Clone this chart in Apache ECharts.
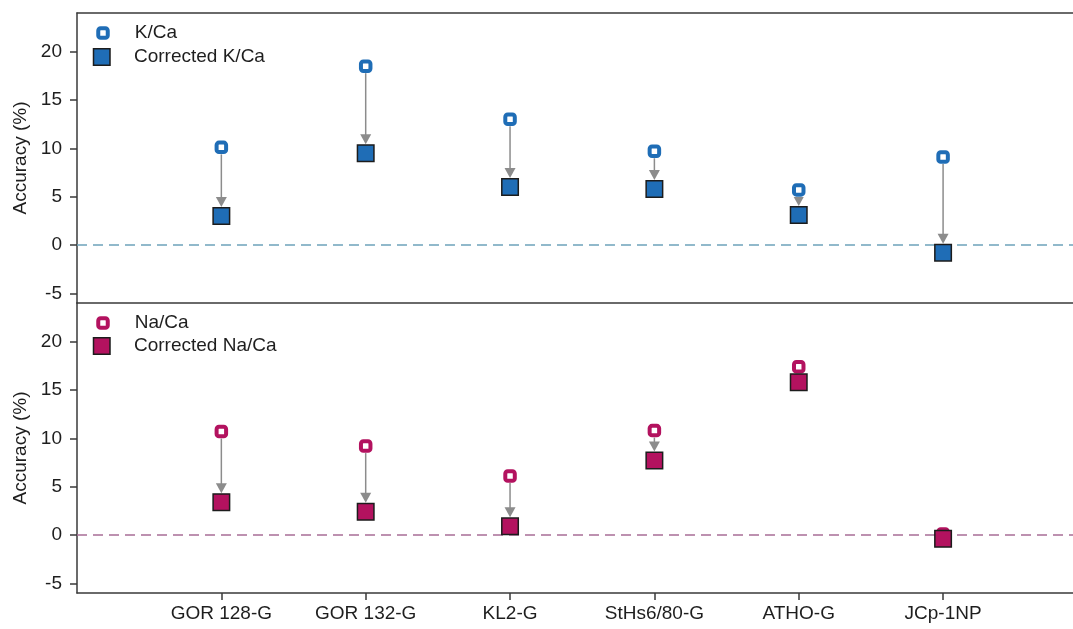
<!DOCTYPE html>
<html>
<head>
<meta charset="utf-8">
<title>Accuracy before and after correction</title>
<script src="https://cdn.jsdelivr.net/npm/echarts@6/dist/echarts.min.js"></script>
<style>
  html, body { margin: 0; padding: 0; background: #fff; }
  #chart { width: 1073px; height: 629px; }
</style>
</head>
<body>
<div id="chart"></div>
<script>
// Reference materials along the x axis
const categories = ['GOR 128-G', 'GOR 132-G', 'KL2-G', 'StHs6/80-G', 'ATHO-G', 'JCp-1NP'];

// Accuracy (%) of K/Ca, raw and corrected
const kcaRaw = [10.1, 18.5, 13.0, 9.7, 5.7, 9.1];
const kcaCorrected = [3.0, 9.5, 6.0, 5.8, 3.1, -0.8];

// Accuracy (%) of Na/Ca, raw and corrected
const nacaRaw = [10.7, 9.2, 6.1, 10.8, 17.4, 0.1];
const nacaCorrected = [3.4, 2.4, 0.9, 7.7, 15.8, -0.4];

// Tick labels of the accuracy axes
const yTicks = [-5, 0, 5, 10, 15, 20];

const BLUE = '#1f6db6';
const MAGENTA = '#b3125f';
const EDGE = '#1c1c1c';
const ARROW = '#8c8c8c';
const FONT = '"Liberation Sans", Arial, Helvetica, sans-serif';
const TEXT = '#1e1e1e';
const AXIS = '#3a3a3a';
const X_MAX = 6.9;

const xPos = categories.map((_, i) => i + 1);

function pairs(values) {
  return values.map((v, i) => [xPos[i], v]);
}
function arrows(raw, corr) {
  return raw.map((v, i) => [xPos[i], v, corr[i]]);
}

// Gray arrow from each raw value down to its corrected value
function renderArrow(params, api) {
  const x = api.value(0);
  const pA = api.coord([x, api.value(1)]);
  const pB = api.coord([x, api.value(2)]);
  const y0 = pA[1] + 7;
  const yTip = pB[1] - 9;
  const gap = yTip - y0;
  if (gap <= 0) return null;
  const head = Math.min(10, gap);
  const halfW = 5.5 * head / 10;
  const children = [];
  if (gap - head > 0) {
    children.push({
      type: 'line',
      shape: { x1: pA[0], y1: y0, x2: pA[0], y2: yTip - head + 1 },
      style: { stroke: ARROW, lineWidth: 1.5 }
    });
  }
  children.push({
    type: 'polygon',
    shape: { points: [[pA[0] - halfW, yTip - head], [pA[0] + halfW, yTip - head], [pA[0], yTip]] },
    style: { fill: ARROW }
  });
  return { type: 'group', children: children };
}

function yAxisFor(gridIndex) {
  return {
    type: 'value', gridIndex: gridIndex, min: -6, max: 24,
    name: 'Accuracy (%)', nameLocation: 'middle', nameGap: 44, nameRotate: 90,
    nameTextStyle: { fontFamily: FONT, fontSize: 19, color: TEXT },
    axisLine: { show: true, lineStyle: { color: AXIS, width: 1.5 } },
    axisTick: { show: true, length: 7, customValues: yTicks, lineStyle: { color: AXIS, width: 1.5 } },
    axisLabel: { customValues: yTicks, margin: 15, fontFamily: FONT, fontSize: 19, color: TEXT },
    splitLine: { show: false }
  };
}

// Plain frame line along one edge of a panel
function frameAxis(gridIndex, position) {
  return {
    type: 'value', gridIndex: gridIndex, position: position, min: 0, max: X_MAX,
    axisLine: { show: true, onZero: false, lineStyle: { color: AXIS, width: 1.5 } },
    axisTick: { show: false }, axisLabel: { show: false }, splitLine: { show: false }
  };
}

function openSeries(name, data, color, gridIndex) {
  return {
    name: name, type: 'scatter', xAxisIndex: gridIndex, yAxisIndex: gridIndex,
    data: data, symbol: 'roundRect', symbolSize: 9.5, z: 4,
    itemStyle: { color: '#ffffff', borderColor: color, borderWidth: 4, opacity: 1 },
    emphasis: { disabled: true }
  };
}

function filledSeries(name, data, color, gridIndex, zeroColor) {
  return {
    name: name, type: 'scatter', xAxisIndex: gridIndex, yAxisIndex: gridIndex,
    data: data, symbol: 'rect', symbolSize: 16.5, z: 5,
    itemStyle: { color: color, borderColor: EDGE, borderWidth: 1.5, opacity: 1 },
    emphasis: { disabled: true },
    markLine: {
      silent: true, symbol: 'none', label: { show: false }, z: 1,
      lineStyle: { type: [10, 6], color: zeroColor, width: 1.5 },
      data: [{ yAxis: 0 }]
    }
  };
}

function arrowSeries(data, gridIndex) {
  return {
    type: 'custom', xAxisIndex: gridIndex, yAxisIndex: gridIndex,
    data: data, renderItem: renderArrow, encode: { x: 0, y: [1, 2] },
    clip: false, z: 3, silent: true
  };
}

function legendFor(name, left, top, size, padLeft, icon, style) {
  return {
    orient: 'vertical', left: left, top: top, padding: 0,
    itemWidth: size, itemHeight: size, selectedMode: false,
    textStyle: { fontFamily: FONT, fontSize: 19, color: TEXT, lineHeight: 20, padding: [0, 0, 0, padLeft] },
    data: [{ name: name, icon: icon, itemStyle: style }]
  };
}

const chart = echarts.init(document.getElementById('chart'), null, { renderer: 'canvas' });

chart.setOption({
  backgroundColor: '#ffffff',
  animation: false,
  grid: [
    { left: 77, right: 0, top: 13, height: 290 },
    { left: 77, right: 0, top: 303, height: 290 }
  ],
  xAxis: [
    frameAxis(0, 'bottom'),
    {
      type: 'value', gridIndex: 1, position: 'bottom', min: 0, max: X_MAX,
      axisLine: { show: true, onZero: false, lineStyle: { color: AXIS, width: 1.5 } },
      axisTick: { show: true, length: 7, customValues: xPos, lineStyle: { color: AXIS, width: 1.5 } },
      axisLabel: {
        customValues: xPos, margin: 11, fontFamily: FONT, fontSize: 19, color: TEXT,
        formatter: v => categories[Math.round(v) - 1] || ''
      },
      splitLine: { show: false }
    },
    frameAxis(0, 'top')
  ],
  yAxis: [yAxisFor(0), yAxisFor(1)],
  legend: [
    legendFor('K/Ca', 96.25, 23, 9.5, 22, 'roundRect', { color: '#ffffff', borderColor: BLUE, borderWidth: 4 }),
    legendFor('Corrected K/Ca', 92.75, 47, 16.5, 19, 'rect', { color: BLUE, borderColor: EDGE, borderWidth: 1.5 }),
    legendFor('Na/Ca', 96.25, 313, 9.5, 22, 'roundRect', { color: '#ffffff', borderColor: MAGENTA, borderWidth: 4 }),
    legendFor('Corrected Na/Ca', 92.75, 336, 16.5, 19, 'rect', { color: MAGENTA, borderColor: EDGE, borderWidth: 1.5 })
  ],
  series: [
    arrowSeries(arrows(kcaRaw, kcaCorrected), 0),
    openSeries('K/Ca', pairs(kcaRaw), BLUE, 0),
    filledSeries('Corrected K/Ca', pairs(kcaCorrected), BLUE, 0, '#6ea3bb'),
    arrowSeries(arrows(nacaRaw, nacaCorrected), 1),
    openSeries('Na/Ca', pairs(nacaRaw), MAGENTA, 1),
    filledSeries('Corrected Na/Ca', pairs(nacaCorrected), MAGENTA, 1, '#a86d96')
  ]
});
</script>
</body>
</html>
